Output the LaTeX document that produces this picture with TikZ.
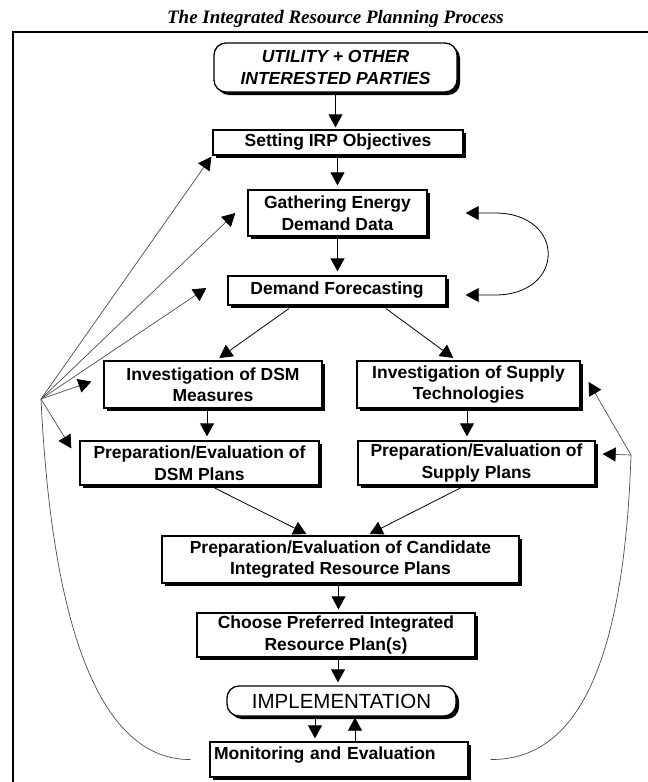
\documentclass[tikz,border=0pt]{standalone}
\usepackage{fontspec}
\setmainfont{Liberation Sans}
\newfontfamily\titlefont{Liberation Serif}
\usetikzlibrary{arrows.meta,shadows}
\begin{document}
\begin{tikzpicture}[x=1pt,y=-1pt,
  box/.style={draw=black, line width=1.3pt, fill=white, inner sep=0pt, align=center,
     font=\fontsize{17.5}{21.5}\selectfont\bfseries,
     drop shadow={shadow xshift=3pt, shadow yshift=-3pt, opacity=1, fill=black}},
  rbox/.style={box, rounded corners=12pt},
  tip/.tip={Triangle[width=14pt,length=13pt,color=black]},
  arr/.style={line width=0.8pt, -tip},
  fb/.style={line width=0.7pt, draw=black!70},
  fbarr/.style={fb, -tip},
]
\useasboundingbox (0,0) rectangle (648,782);
% title and frame
\node[font=\titlefont\fontsize{19}{22}\selectfont\bfseries\itshape] (title) at (335.5,19) {The Integrated Resource Planning Process};
\draw[line width=2.5pt] (648,32) -- (13,32) -- (13,782);

% nodes
\node[rbox, font=\fontsize{17.5}{21.5}\selectfont\bfseries\itshape, minimum width=243pt, minimum height=49pt] (util) at (335.5,67.5) {UTILITY + OTHER\\INTERESTED PARTIES};
\node[box, minimum width=250pt, minimum height=25pt] (set) at (338,142.5) {Setting IRP Objectives};
\node[box, minimum width=179pt, minimum height=46pt] (gath) at (337.5,213) {Gathering Energy\\Demand Data};
\node[box, minimum width=218pt, minimum height=29pt] (fore) at (337,290.5) {Demand Forecasting};
\node[box, minimum width=218pt, minimum height=47pt] (invdsm) at (213,384.5) {Investigation of DSM\\Measures};
\node[box, minimum width=223pt, minimum height=47pt] (invsup) at (468.5,384.5) {Investigation of Supply\\Technologies};
\node[box, minimum width=239pt, minimum height=44pt] (prepdsm) at (199.5,463) {Preparation/Evaluation of\\DSM Plans};
\node[box, minimum width=237pt, minimum height=44pt] (prepsup) at (476.5,463) {Preparation/Evaluation of\\Supply Plans};
\node[box, minimum width=357pt, minimum height=47pt] (cand) at (340.5,559.5) {Preparation/Evaluation of Candidate\\Integrated Resource Plans};
\node[box, minimum width=278pt, minimum height=44pt] (choose) at (336,635) {Choose Preferred Integrated\\Resource Plan(s)};
\node[rbox, font=\fontsize{20.5}{24}\selectfont, minimum width=229pt, minimum height=30pt] (impl) at (341.5,701) {IMPLEMENTATION};
\node[box, align=left, inner xsep=4pt, inner ysep=0pt, text width=250pt, text height=17pt, text depth=18pt] (monit) at (339,759.5) {Monitoring and Evaluation};

% main flow
\draw[arr, shorten >=2pt] (util.south) -- (util.south |- set.north);
\draw[arr, shorten >=4pt] (gath.north |- set.south) -- (gath.north);
\draw[arr, shorten >=4pt] (gath.south) -- (gath.south |- fore.north);
\draw[arr, shorten <=5pt, shorten >=4pt] ([xshift=-44pt]fore.south) -- ([xshift=3pt]invdsm.north);
\draw[arr, shorten <=5pt, shorten >=4pt] ([xshift=45pt]fore.south) -- ([xshift=-12pt]invsup.north);
\draw[arr, shorten >=4pt] ([xshift=-6pt]invdsm.south) -- ([xshift=-6pt]invdsm.south |- prepdsm.north);
\draw[arr, shorten >=4pt] ([xshift=-1.5pt]invsup.south) -- ([xshift=-1.5pt]invsup.south |- prepsup.north);
\draw[arr, shorten <=5pt, shorten >=3pt] ([xshift=10.5pt]prepdsm.south) -- ([xshift=-31.5pt]cand.north);
\draw[arr, shorten <=5pt, shorten >=3pt] ([xshift=-11.5pt]prepsup.south) -- ([xshift=26.5pt]cand.north);
\draw[arr, shorten >=3pt] ([xshift=-2pt]cand.south) -- ([xshift=-2pt]cand.south |- choose.north);
\draw[arr, shorten >=3pt] ([xshift=2pt]choose.south) -- ([xshift=2pt]choose.south |- impl.north);
\draw[arr, shorten >=3pt] ([xshift=-26.5pt]impl.south) -- ([xshift=-26.5pt]impl.south |- monit.north);
\draw[arr, shorten >=1pt] ([xshift=13.5pt]impl.south |- monit.north) -- ([xshift=13.5pt]impl.south);

% loop between gathering and forecasting
\coordinate (lg) at ([xshift=38pt]gath.east);
\coordinate (lf) at ([xshift=19pt,yshift=-4.5pt]fore.east);
\draw[line width=0.8pt, tip-tip] (lg) -- (495,213) .. controls (566,213) and (566,295) .. (495,295) -- (lf);

% left feedback fan
\coordinate (fanL) at (41,399);
\draw[fbarr] (fanL) -- ([xshift=-1pt,yshift=-1pt]set.south west);
\draw[fbarr] (fanL) -- ([xshift=-12pt]gath.west);
\draw[fbarr] (fanL) -- ([xshift=-21pt,yshift=2.5pt]fore.west);
\draw[fbarr] (fanL) -- ([xshift=-12pt,yshift=3pt]invdsm.west);
\draw[fbarr] (fanL) -- ([xshift=-8pt,yshift=-8pt]prepdsm.north west);
\draw[fb] (fanL) .. controls (55,690) and (125,760) .. ([xshift=-19pt]monit.west);

% right feedback fan
\coordinate (fanR) at (631,455);
\draw[fbarr] (fanR) -- ([xshift=8pt,yshift=2.5pt]invsup.east);
\draw[fbarr] (fanR) -- ([xshift=7pt,yshift=9pt]prepsup.east);
\draw[fb] (fanR) .. controls (623,700) and (560,760) .. ([xshift=22pt]monit.east);
\end{tikzpicture}
\end{document}
